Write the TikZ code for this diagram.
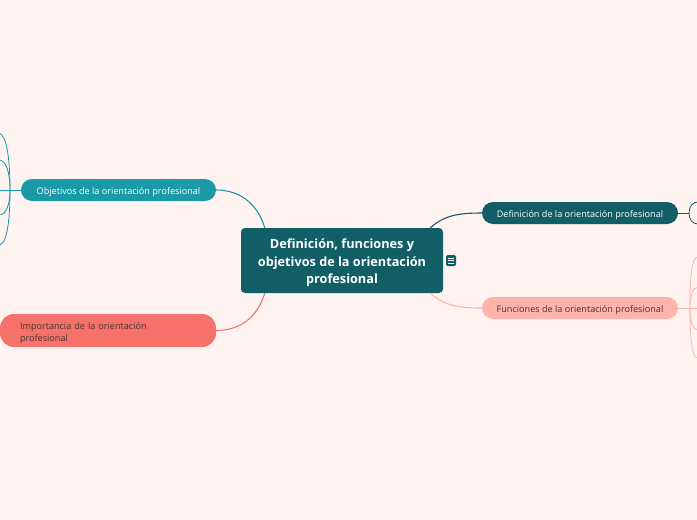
\documentclass[tikz,border=0pt]{standalone}
\usepackage{fontspec}
\setmainfont{Open Sans}
\definecolor{bg}{HTML}{FFF3F1}
\definecolor{dark}{HTML}{115E67}
\definecolor{teal}{HTML}{1A9AA6}
\definecolor{coral}{HTML}{F6716A}
\definecolor{pink}{HTML}{FFB3AD}
\definecolor{txt}{HTML}{4A3436}
\tikzset{
  topic/.style={rounded corners=11pt, minimum width=196pt, minimum height=22pt, inner sep=0pt, text height=9.6pt, text depth=0pt, font=\fontsize{9.1}{11}\selectfont},
  conn/.style={line width=1.1pt},
  thin/.style={line width=0.8pt},
}
\begin{document}
\begin{tikzpicture}[x=1pt,y=-1pt]
\fill[bg] (0,0) rectangle (697,520);
\useasboundingbox (0,0) rectangle (697,520);

\node[fill=dark, rounded corners=4pt, minimum width=202pt, minimum height=65pt, inner sep=0pt,
  label={[text=white, align=center, inner sep=0pt, yshift=-2.5pt, font=\fontsize{12.7}{17.5}\selectfont\bfseries]center:Definición, funciones y\\objetivos de la orientación\\profesional}] (central) at (342,260.5) {};

\node[topic, fill=teal, text=white, minimum width=195pt] (obj) at (118.5,190) {Objetivos de la orientación profesional};
\node[fill=coral, minimum width=216pt, minimum height=33pt, rounded corners=14pt, inner sep=0pt,
  label={[text=txt, text width=176pt, align=left, inner sep=0pt, yshift=-2.8pt, font=\fontsize{9.1}{12}\selectfont]center:Importancia de la orientación\\profesional}] (imp) at (108,330.5) {};
\node[topic, fill=dark, text=white] (def) at (580,213) {Definición de la orientación profesional};
\node[topic, fill=pink, text=txt] (fun) at (580,308) {Funciones de la orientación profesional};

% icon
\node[fill=dark, rounded corners=1.5pt, minimum width=10pt, minimum height=11pt, inner sep=0pt] (icon) at (451,260.5) {};
\foreach \dy in {-2.5,0,2.5} \draw[white, line width=0.7pt] ([xshift=-2.8pt,yshift=\dy pt]icon.center) -- ([xshift=2.8pt,yshift=\dy pt]icon.center);

% main connectors
\draw[conn, teal] ([xshift=24pt]central.north west) .. controls +(-8,-26) and +(22,0) .. (obj.east);
\draw[conn, coral] ([xshift=24pt]central.south west) .. controls +(-8,26) and +(22,0) .. (imp.east);
\draw[conn, dark] ([xshift=-13pt]central.north east) .. controls +(14,-12) and +(-25,0) .. (def.west);
\draw[conn, pink] ([xshift=-13pt]central.south east) .. controls +(14,12) and +(-25,0) .. (fun.west);

% right side stubs of Definicion
\coordinate (dj) at (689,213);
\coordinate (du) at (698,202);
\coordinate (dd) at (698,224);
\draw[thin, dark] (def.east) -- (dj);
\draw[thin, dark] (dj) .. controls (689,206) and (693,202) .. (du);
\draw[thin, dark] (dj) .. controls (689,220) and (693,224) .. (dd);

% right side stubs of Funciones
\coordinate (fj) at (690,308);
\coordinate (fe) at (698,308);
\coordinate (f1) at (698,257);
\coordinate (f2) at (698,287);
\coordinate (f3) at (698,330);
\coordinate (f4) at (698,358);
\draw[thin, pink] (fun.east) -- (fe);
\draw[thin, pink] (fj) .. controls (690,275) and (692,257) .. (f1);
\draw[thin, pink] (fj) .. controls (690,296) and (693,287) .. (f2);
\draw[thin, pink] (fj) .. controls (690,321) and (693,330) .. (f3);
\draw[thin, pink] (fj) .. controls (690,340) and (692,358) .. (f4);

% left side stubs of Objetivos
\coordinate (oj) at (10,190);
\coordinate (oe) at (-1,190);
\coordinate (o1) at (-1,133);
\coordinate (o2) at (-1,160);
\coordinate (o3) at (-1,215);
\coordinate (o4) at (-1,245);
\draw[thin, teal] (obj.west) -- (oe);
\draw[thin, teal] (oj) .. controls (10,155) and (6,135) .. (o1);
\draw[thin, teal] (oj) .. controls (10,172) and (6,160) .. (o2);
\draw[thin, teal] (oj) .. controls (10,205) and (6,215) .. (o3);
\draw[thin, teal] (oj) .. controls (10,225) and (6,245) .. (o4);
\end{tikzpicture}
\end{document}
